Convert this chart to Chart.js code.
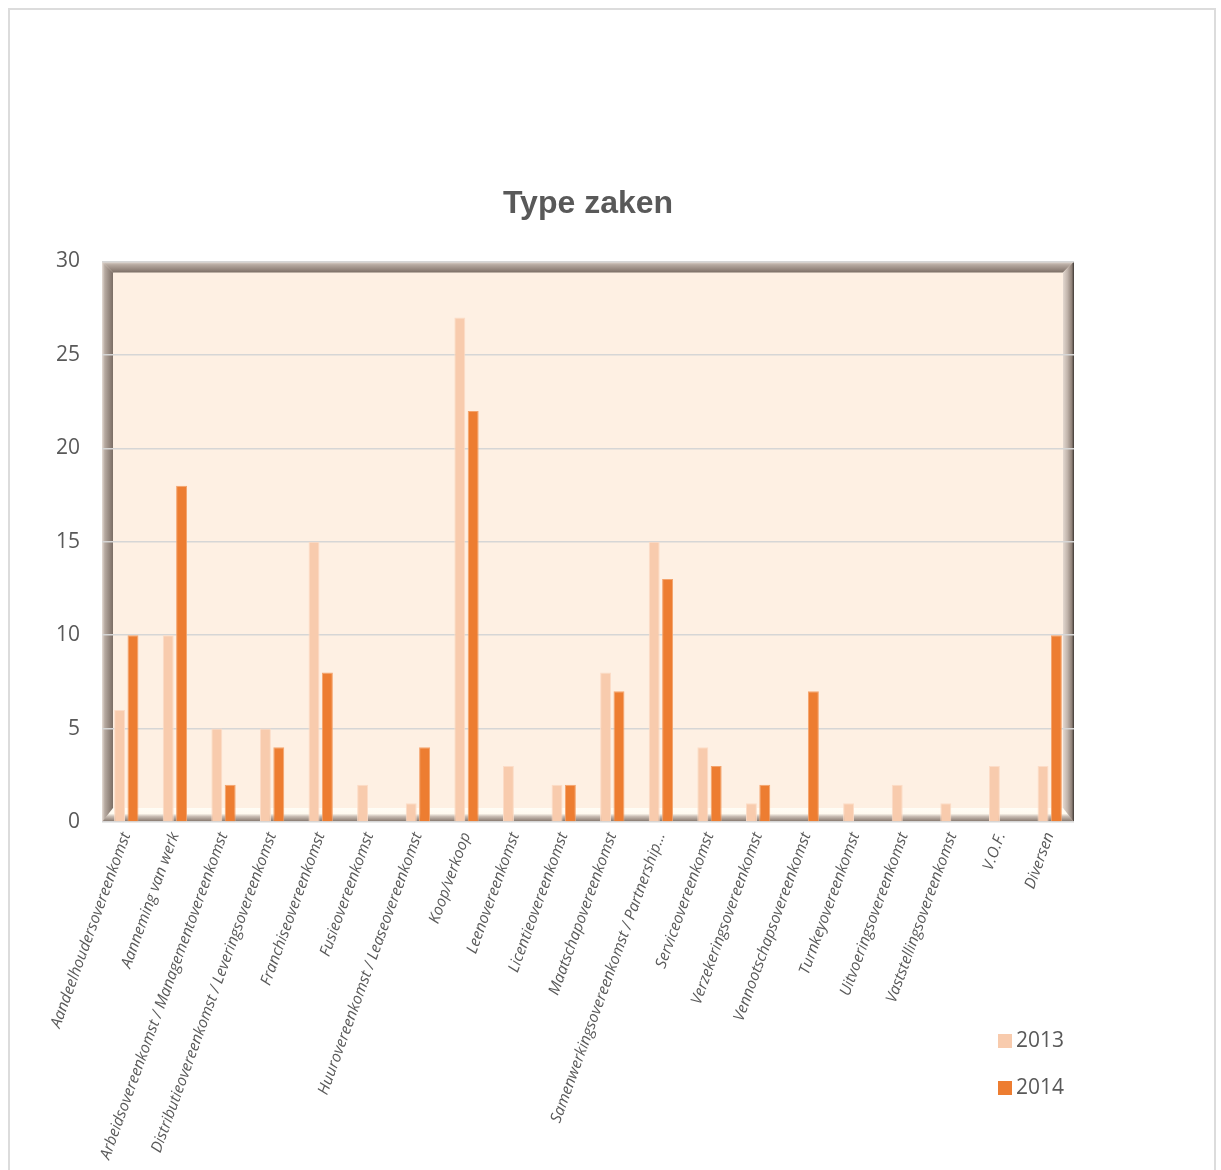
<!DOCTYPE html>
<html>
<head>
<meta charset="utf-8">
<script src="https://cdn.jsdelivr.net/npm/chart.js@4.4.1/dist/chart.umd.min.js"></script>
<style>
    html, body { margin: 0; padding: 0; background: #ffffff; }
    #wrap { position: relative; width: 1221px; height: 1170px; overflow: hidden; }
    #frame { position: absolute; left: 8px; top: 8px; width: 1208px; height: 1180px; border: 2px solid #dcdcdc; box-sizing: border-box; }
    canvas { position: absolute; left: 0; top: 0; }
</style>
</head>
<body>
<div id="wrap">
    <div id="frame"></div>
    <canvas id="typeZakenChart" width="1221" height="1170"></canvas>
</div>
<script>
    // Categorieën en waarden
    const categories = [
        'Aandeelhoudersovereenkomst',
        'Aanneming van werk',
        'Arbeidsovereenkomst / Managementovereenkomst',
        'Distributieovereenkomst / Leveringsovereenkomst',
        'Franchiseovereenkomst',
        'Fusieovereenkomst',
        'Huurovereenkomst / Leaseovereenkomst',
        'Koop/verkoop',
        'Leenovereenkomst',
        'Licentieovereenkomst',
        'Maatschapovereenkomst',
        'Samenwerkingsovereenkomst / Partnership...',
        'Serviceovereenkomst',
        'Verzekeringsovereenkomst',
        'Vennootschapsovereenkomst',
        'Turnkeyovereenkomst',
        'Uitvoeringsovereenkomst',
        'Vaststellingsovereenkomst',
        'V.O.F.',
        'Diversen'
    ];
    const values2013 = [6, 10, 5, 5, 15, 2, 1, 27, 3, 2, 8, 15, 4, 1, 0, 1, 2, 1, 3, 3];
    const values2014 = [10, 18, 2, 4, 8, 0, 4, 22, 0, 2, 7, 13, 3, 2, 7, 0, 0, 0, 0, 10];
    const seriesLabels = ['2013', '2014'];
    const yMin = 0, yMax = 30, yStep = 5;

    const textColor = '#595959';

    // 3D-achtige rand rond het plotgebied
    const bevelFrame = {
        id: 'bevelFrame',
        beforeDraw(chart) {
            const { ctx, chartArea: a } = chart;
            const L = a.left, R = a.right, T = a.top, B = a.bottom;
            const d = 11;
            ctx.save();
            ctx.fillStyle = '#fef0e3';
            ctx.fillRect(L, T, R - L, B - T);

            // linker wand
            let g = ctx.createLinearGradient(L, 0, L + d, 0);
            g.addColorStop(0, '#e6ddd6');
            g.addColorStop(0.25, '#b7aaa1');
            g.addColorStop(0.75, '#8f8178');
            g.addColorStop(1, '#7b6e65');
            ctx.fillStyle = g;
            ctx.beginPath();
            ctx.moveTo(L, T); ctx.lineTo(L + d, T + d); ctx.lineTo(L + d, B - 12); ctx.lineTo(L, B);
            ctx.closePath(); ctx.fill();

            // bovenwand
            g = ctx.createLinearGradient(0, T, 0, T + d);
            g.addColorStop(0, '#e6ddd6');
            g.addColorStop(0.3, '#b7aaa1');
            g.addColorStop(0.8, '#8f8178');
            g.addColorStop(1, '#7b6e65');
            ctx.fillStyle = g;
            ctx.beginPath();
            ctx.moveTo(L, T); ctx.lineTo(R, T); ctx.lineTo(R - d, T + d); ctx.lineTo(L + d, T + d);
            ctx.closePath(); ctx.fill();

            // rechter wand
            g = ctx.createLinearGradient(R - d, 0, R, 0);
            g.addColorStop(0, '#e3d8d0');
            g.addColorStop(0.4, '#c2b5ac');
            g.addColorStop(0.8, '#8f8178');
            g.addColorStop(1, '#3d3733');
            ctx.fillStyle = g;
            ctx.beginPath();
            ctx.moveTo(R, T); ctx.lineTo(R, B); ctx.lineTo(R - d, B - 12); ctx.lineTo(R - d, T + d);
            ctx.closePath(); ctx.fill();

            // vloer
            g = ctx.createLinearGradient(0, B - 14, 0, B);
            g.addColorStop(0, '#fffdf6');
            g.addColorStop(0.4, '#fffaf0');
            g.addColorStop(0.6, '#c9bdb4');
            g.addColorStop(0.85, '#9a8c82');
            g.addColorStop(1, '#7b6e65');
            ctx.fillStyle = g;
            ctx.beginPath();
            ctx.moveTo(L + d, B - 14); ctx.lineTo(R - d, B - 14); ctx.lineTo(R, B); ctx.lineTo(L, B);
            ctx.closePath(); ctx.fill();
            ctx.restore();
        }
    };

    // Legenda rechtsonder
    const sideLegend = {
        id: 'sideLegend',
        afterDraw(chart) {
            const { ctx, chartArea: a } = chart;
            ctx.save();
            ctx.font = '21px "Open Sans"';
            ctx.textBaseline = 'middle';
            chart.data.datasets.forEach((ds, i) => {
                const y = a.bottom + 219 + i * 47;
                ctx.fillStyle = ds.backgroundColor;
                ctx.fillRect(a.right - 76, y - 7, 14, 14);
                ctx.fillStyle = textColor;
                ctx.fillText(ds.label, a.right - 58, y);
            });
            ctx.restore();
        }
    };

    new Chart(document.getElementById('typeZakenChart'), {
        type: 'bar',
        data: {
            labels: categories,
            datasets: [
                {
                    label: seriesLabels[0],
                    data: values2013,
                    backgroundColor: '#f8cbad',
                    borderColor: '#fcdcc7',
                    borderWidth: 1,
                    categoryPercentage: 0.55,
                    barPercentage: 0.82
                },
                {
                    label: seriesLabels[1],
                    data: values2014,
                    backgroundColor: '#ed7d31',
                    borderColor: '#f4a36c',
                    borderWidth: 1,
                    categoryPercentage: 0.55,
                    barPercentage: 0.82
                }
            ]
        },
        options: {
            responsive: false,
            animation: false,
            layout: { padding: { left: 0, right: 147, top: 0, bottom: 0 } },
            plugins: {
                legend: { display: false },
                tooltip: { enabled: false },
                title: {
                    display: true,
                    text: 'Type zaken',
                    fullSize: false,
                    color: textColor,
                    font: { family: '"Liberation Sans", Arial, sans-serif', size: 32, weight: 'bold' },
                    padding: { top: 185, bottom: 38 }
                }
            },
            scales: {
                x: {
                    grid: { display: false, drawTicks: false },
                    border: { display: false },
                    ticks: {
                        autoSkip: false,
                        maxRotation: 70,
                        minRotation: 70,
                        padding: 8,
                        color: textColor,
                        font: { family: '"Open Sans"', size: 15.5, style: 'italic' }
                    },
                    afterFit(scale) { scale.height = 348; }
                },
                y: {
                    min: yMin,
                    max: yMax,
                    grid: { color: '#d6d6d6', lineWidth: 1.5, drawTicks: false },
                    border: { display: false },
                    ticks: {
                        stepSize: yStep,
                        padding: 22,
                        color: textColor,
                        font: { family: '"Open Sans"', size: 21 }
                    },
                    afterFit(scale) { scale.width = 102; }
                }
            }
        },
        plugins: [bevelFrame, sideLegend]
    });
</script>
</body>
</html>
